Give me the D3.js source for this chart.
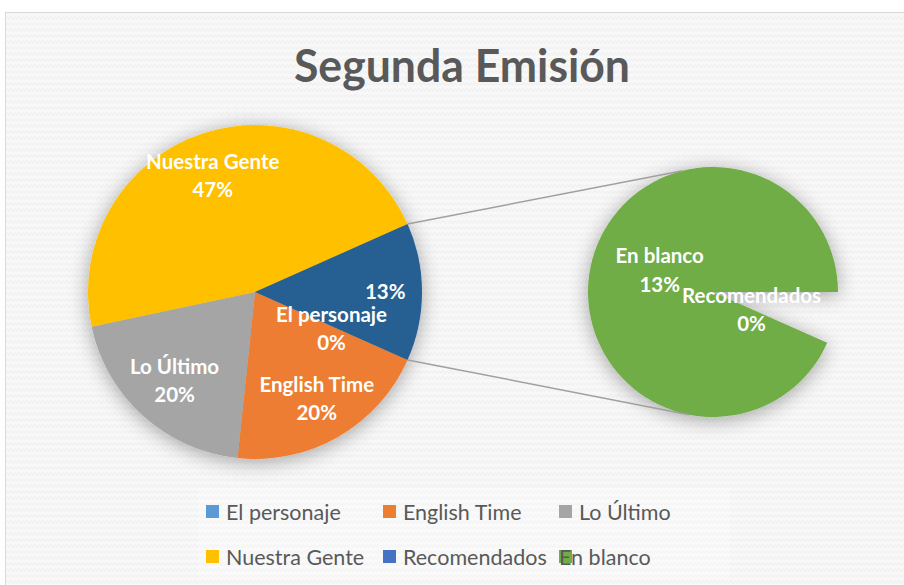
<!DOCTYPE html>
<html>
<head>
<meta charset="utf-8">
<script src="https://cdn.jsdelivr.net/npm/d3@7"></script>
<style>
  body { margin: 0; background: #fff; }
  svg text { font-family: Lato, "Liberation Sans", sans-serif; }
</style>
</head>
<body>
<div id="chart"></div>
<script>
// Segunda Emisión - pie of pie (Excel style)

// main pie categories and counts
const mainNames = ['El personaje', 'English Time', 'Lo Último', 'Nuestra Gente'];
const mainValues = [0, 3, 3, 7];
// secondary pie (the "other" slice)
const subNames = ['Recomendados', 'En blanco'];
const subValues = [0, 2];

const legendNames = ['El personaje', 'English Time', 'Lo Último', 'Nuestra Gente', 'Recomendados', 'En blanco'];
const legendColors = ['#5B9BD5', '#ED7D31', '#A5A5A5', '#FFC000', '#4472C4', '#70AD47'];

const width = 904;
const height = 585;

const mainColors = {'El personaje': '#5B9BD5', 'English Time': '#ED7D31', 'Lo Último': '#A5A5A5', 'Nuestra Gente': '#FFC000', 'Otro': '#255E91'};
const subColors = {'Recomendados': '#4472C4', 'En blanco': '#70AD47'};

const svg = d3.select('#chart').append('svg')
  .attr('width', width)
  .attr('height', height);

const defs = svg.append('defs');

// faint woven texture on the chart background
const pat = defs.append('pattern')
  .attr('id', 'tex')
  .attr('width', 8).attr('height', 6)
  .attr('patternUnits', 'userSpaceOnUse');
pat.append('rect').attr('width', 8).attr('height', 6).attr('fill', '#f3f3f3');
pat.append('path').attr('d', 'M0,5 Q2,0 4,3 T8,1').attr('stroke', '#fbfbfb').attr('stroke-width', 1.4).attr('fill', 'none');

const shadow = defs.append('filter').attr('id', 'shadow')
  .attr('x', '-30%').attr('y', '-30%').attr('width', '160%').attr('height', '160%');
shadow.append('feGaussianBlur').attr('in', 'SourceAlpha').attr('stdDeviation', 10).attr('result', 'b');
shadow.append('feOffset').attr('dx', 0).attr('dy', 3).attr('result', 'o');
shadow.append('feComponentTransfer').append('feFuncA').attr('type', 'linear').attr('slope', 0.35);
shadow.append('feMerge').call(m => {
  m.append('feMergeNode');
  m.append('feMergeNode').attr('in', 'SourceGraphic');
});

svg.append('rect')
  .attr('x', 5.5).attr('y', 12.5)
  .attr('width', 1000).attr('height', 1000)
  .attr('fill', 'url(#tex)')
  .attr('stroke', '#d9d9d9');

// title
const title = svg.append('text')
  .attr('x', 462).attr('y', 82)
  .attr('text-anchor', 'middle')
  .attr('font-size', 46)
  .attr('font-weight', 'bold')
  .attr('fill', '#595959')
  .text('Segunda Emisión');
if (title.node().getComputedTextLength() > 336) {
  title.attr('textLength', 336).attr('lengthAdjust', 'spacingAndGlyphs');
}

// data for the main pie, "other" is the sum of the secondary pie
const otherTotal = d3.sum(subValues);
const total = d3.sum(mainValues) + otherTotal;
const mainData = mainNames.map((n, i) => ({name: n, value: mainValues[i]}));
mainData.push({name: 'Otro', value: otherTotal});

const otherAngle = 2 * Math.PI * otherTotal / total;
const start = Math.PI / 2 + otherAngle / 2;

const R1 = 167, c1 = [255, 292];
const R2 = 125, c2 = [713, 292];

const pie1 = d3.pie().sort(null).value(d => d.value)
  .startAngle(start).endAngle(start + 2 * Math.PI);
const arc1 = d3.arc().innerRadius(0).outerRadius(R1);

const g1 = svg.append('g').attr('transform', `translate(${c1})`);
g1.append('g').attr('filter', 'url(#shadow)')
  .selectAll('path')
  .data(pie1(mainData))
  .join('path')
  .attr('d', arc1)
  .attr('fill', d => mainColors[d.data.name]);

// secondary pie
const subData = subNames.map((n, i) => ({name: n, value: subValues[i]}));
const s2 = Math.PI / 2 + otherAngle / 2;
const pie2 = d3.pie().sort(null).value(d => d.value)
  .startAngle(s2).endAngle(Math.PI / 2 + 2 * Math.PI);
const arc2 = d3.arc().innerRadius(0).outerRadius(R2);

const g2 = svg.append('g').attr('transform', `translate(${c2})`);
g2.append('g').attr('filter', 'url(#shadow)')
  .selectAll('path')
  .data(pie2(subData))
  .join('path')
  .attr('d', arc2)
  .attr('fill', d => subColors[d.data.name]);

// connector lines from the "other" slice edges to the secondary pie
const otherSlice = pie1(mainData)[mainData.length - 1];
const pt = (c, r, a) => [c[0] + r * Math.sin(a), c[1] - r * Math.cos(a)];
const deg = Math.PI / 180;
const links = [
  [pt(c1, R1, otherSlice.startAngle), pt(c2, R2, -14 * deg)],
  [pt(c1, R1, otherSlice.endAngle), pt(c2, R2, 191 * deg)]
];
svg.append('g').selectAll('line')
  .data(links)
  .join('line')
  .attr('x1', d => d[0][0]).attr('y1', d => d[0][1])
  .attr('x2', d => d[1][0]).attr('y2', d => d[1][1])
  .attr('stroke', '#a0a0a0')
  .attr('stroke-width', 1.5);

const fmt = v => Math.round(v / total * 100) + '%';

// label placement: radius factor and angle nudge (deg) per slice
const labelPos = {
  'Nuestra Gente': [0.74, -2],
  'English Time': [0.74, 0],
  'Lo Último': [0.72, 0],
  'El personaje': [0.51, 2],
  'Otro': [0.78, 0],
  'En blanco': [0.46, 10],
  'Recomendados': [0.34, 1]
};

function drawLabels(g, arcs, R) {
  const lab = g.append('g')
    .attr('fill', '#fff')
    .attr('font-weight', 'bold')
    .attr('font-size', 20.5)
    .attr('text-anchor', 'middle');
  arcs.forEach(d => {
    const p = labelPos[d.data.name];
    const a = (d.startAngle + d.endAngle) / 2 + p[1] * deg;
    const [x, y] = pt([0, 0], R * p[0], a);
    const t = lab.append('text').attr('x', x).attr('y', y);
    if (d.data.name === 'Otro') {
      t.attr('dy', '0.35em').text(fmt(d.value));
    } else {
      t.append('tspan').attr('x', x).attr('dy', '-0.35em').text(d.data.name);
      t.append('tspan').attr('x', x).attr('dy', '1.38em').text(fmt(d.value));
    }
  });
}
drawLabels(g1, pie1(mainData), R1);
drawLabels(g2, pie2(subData), R2);

// legend
svg.append('rect')
  .attr('x', 198).attr('y', 488)
  .attr('width', 532).attr('height', 90)
  .attr('fill', '#fff').attr('opacity', 0.3);

const colX = [206, 383, 559];
const rowY = [512, 557];
const legend = svg.append('g');
legendNames.forEach((n, i) => {
  const x = colX[i % 3], y = rowY[Math.floor(i / 3)];
  legend.append('rect')
    .attr('x', x).attr('y', y - 7)
    .attr('width', 13).attr('height', 13)
    .attr('fill', legendColors[i]);
  // last entry's text overruns its marker like in the original
  const tx = (i === legendNames.length - 1) ? x : x + 20;
  legend.append('text')
    .attr('x', tx).attr('y', y)
    .attr('dy', '0.35em')
    .attr('font-size', 21.5)
    .attr('fill', '#595959')
    .text(n);
});
</script>
</body>
</html>
